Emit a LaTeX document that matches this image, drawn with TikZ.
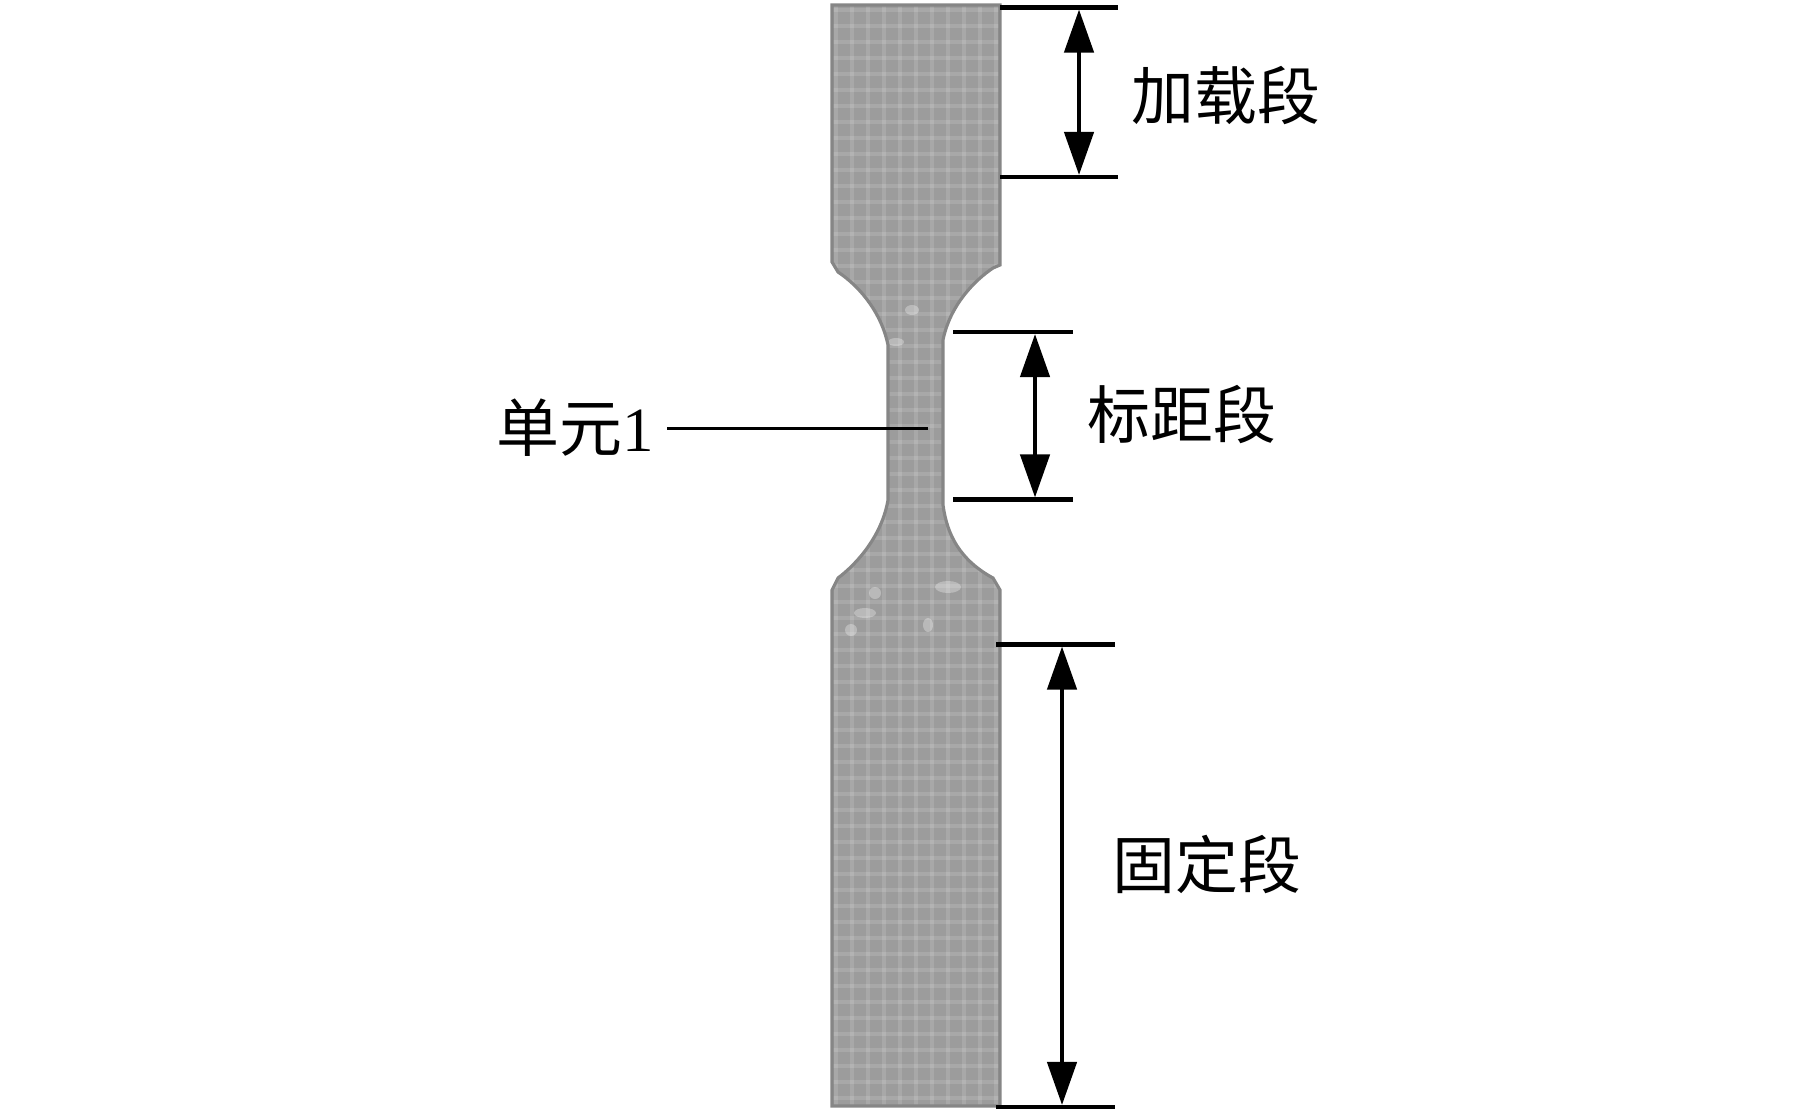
\documentclass[tikz,border=0pt]{standalone}
\usepackage{fontspec}
\setmainfont{Liberation Serif}
\newfontfamily\cjk{Noto Sans CJK SC}
\usetikzlibrary{arrows.meta}

\tikzset{
    tick/.style={black, line width=1.3pt},
    dim/.style={black, line width=1.25pt, {Triangle[length=4.3mm, width=2.9mm]}-{Triangle[length=4.3mm, width=2.9mm]}},
    seglabel/.style={inner sep=0pt, font=\fontsize{17.9}{20}\selectfont\cjk},
}

\def\specimen{(832,5) -- (1000,5) -- (1000,265) -- (993,268) .. controls (975,280) and (950,305) .. (943,340) -- (943,505) .. controls (947,535) and (960,560) .. (993,578) -- (1000,590) -- (1000,1106) -- (832,1106) -- (832,590) -- (838,578) .. controls (858,563) and (882,535) .. (888,500) -- (888,345) .. controls (882,315) and (862,288) .. (838,272) -- (832,262) -- cycle}

\begin{document}
\begin{tikzpicture}[x=0.01cm, y=-0.01cm]

        \useasboundingbox (0, 0) rectangle (1819, 1115);

        % mesh
        \fill[gray!78!white] \specimen;
        \begin{scope}
            \clip \specimen;
            \foreach \x in {836, 852, ..., 1000} {
                \draw[white, opacity=0.13, line width=1.3pt] (\x, 0) -- ++ (0, 1115);
            }
            \foreach \y in {10, 26, ..., 1110} {
                \draw[white, opacity=0.13, line width=1.3pt] (820, \y) -- ++ (200, 0);
            }
            \foreach \x/\y/\a/\b in {948/587/13/6, 865/613/11/5, 875/593/6/6, 851/630/6/6, 912/310/7/5, 896/342/8/4, 928/625/5/7} {
                \fill[white, opacity=0.3] (\x, \y) ellipse [x radius=\a, y radius=\b];
            }
        \end{scope}
        \draw[gray!95!white, line width=0.9pt] \specimen;

        % load section
        \coordinate (loada) at (1000, 7.5);
        \coordinate (loadb) at (1118, 7.5);
        \coordinate (loadc) at (1000, 177);
        \coordinate (loadd) at (1118, 177);
        \coordinate (loadtop) at (1079, 9.5);
        \coordinate (loadbot) at (1079, 175);
        \draw[tick] (loada) -- (loadb);
        \draw[tick] (loadc) -- (loadd);
        \draw[dim] (loadtop) -- (loadbot);
        \node[seglabel] (loadlabel) at (1226, 96) {加载段};

        % gauge section
        \coordinate (gaugea) at (953, 332);
        \coordinate (gaugeb) at (1073, 332);
        \coordinate (gaugec) at (953, 499.5);
        \coordinate (gauged) at (1073, 499.5);
        \coordinate (gaugetop) at (1035, 334);
        \coordinate (gaugebot) at (1035, 497.5);
        \draw[tick] (gaugea) -- (gaugeb);
        \draw[tick] (gaugec) -- (gauged);
        \draw[dim] (gaugetop) -- (gaugebot);
        \node[seglabel] (gaugelabel) at (1182, 415) {标距段};

        % fixed section
        \coordinate (fixa) at (996, 644.5);
        \coordinate (fixb) at (1115, 644.5);
        \coordinate (fixc) at (996, 1107);
        \coordinate (fixd) at (1115, 1107);
        \coordinate (fixtop) at (1062, 646.5);
        \coordinate (fixbot) at (1062, 1105);
        \draw[tick] (fixa) -- (fixb);
        \draw[tick] (fixc) -- (fixd);
        \draw[dim] (fixtop) -- (fixbot);
        \node[seglabel] (fixlabel) at (1207, 864) {固定段};

        % element
        \node[seglabel] (elemlabel) at (575, 428) {单元{\rmfamily 1}};
        \coordinate (elemend) at (928, 428.5);
        \coordinate (elemstart) at (667, 428.5);
        \draw[black, line width=1.1pt] (elemstart) -- (elemend);

\end{tikzpicture}
\end{document}
